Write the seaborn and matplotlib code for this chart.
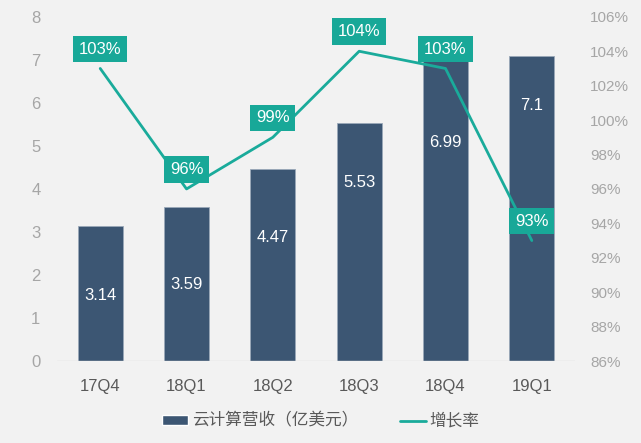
import seaborn as sns
import matplotlib.pyplot as plt
from matplotlib.ticker import FuncFormatter
from matplotlib.patches import Patch
from matplotlib.lines import Line2D

quarters = ['17Q4', '18Q1', '18Q2', '18Q3', '18Q4', '19Q1']
revenue = [3.14, 3.59, 4.47, 5.53, 6.99, 7.1]
growth = [103, 96, 99, 104, 103, 93]
# where the revenue labels sit inside the bars (data units)
label_pos = [1.53, 1.77, 2.88, 4.14, 5.07, 5.95]

bar_color = '#3c5673'
line_color = '#1aab9b'
bg = '#f2f2f2'

sns.set_style('white')
plt.rcParams['font.family'] = ['Liberation Sans', 'Noto Sans CJK SC']

fig = plt.figure(figsize=(6.41, 4.43), dpi=100, facecolor=bg)
ax = fig.add_axes([0.089, 0.185, 0.808, 0.777])
ax.set_facecolor(bg)

sns.barplot(x=quarters, y=revenue, color=bar_color, width=0.52, saturation=1,
            edgecolor='#9aa8b8', linewidth=0.6, ax=ax)
ax.set_ylim(0, 8)
ax.set_xlim(-0.5, 5.5)
for i, (v, p) in enumerate(zip(revenue, label_pos)):
    ax.text(i, p, f'{v:g}', ha='center', va='center', color='white', fontsize=12)

ax2 = ax.twinx()
sns.lineplot(x=quarters, y=growth, color=line_color, linewidth=2, sort=False, ax=ax2)
ax2.set_ylim(86, 106)
ax2.set_yticks(range(86, 107, 2))
ax2.yaxis.set_major_formatter(FuncFormatter(lambda v, _: f'{v:.0f}%'))
for i, g in enumerate(growth):
    ax2.annotate(f'{g}%', (i, g), xytext=(0, 14), textcoords='offset points',
                 ha='center', va='center', color='white', fontsize=12,
                 bbox=dict(boxstyle='square,pad=0.35', fc='#18a898', ec='none'))

for a in (ax, ax2):
    for s in a.spines.values():
        s.set_visible(False)
    a.set_xlabel('')
    a.set_ylabel('')
ax.axhline(0, color='#d9d9d9', linewidth=1)
ax.tick_params(axis='y', length=0, pad=12, labelsize=12, labelcolor='#a6a6a6')
ax.tick_params(axis='x', length=0, pad=13, labelsize=12, labelcolor='#595959')
ax2.tick_params(axis='y', length=0, pad=11, labelsize=11, labelcolor='#a6a6a6')

handles = [Patch(facecolor=bar_color, label='云计算营收（亿美元）'),
           Line2D([0], [0], color=line_color, linewidth=2, label='增长率')]
fig.legend(handles=handles, loc='center', bbox_to_anchor=(0.5, 0.05), ncol=2,
           frameon=False, fontsize=12, labelcolor='#595959',
           handlelength=1.6, handleheight=0.5, handletextpad=0.2, columnspacing=2.5)

fig.savefig('out.png', dpi=100, facecolor=bg)
